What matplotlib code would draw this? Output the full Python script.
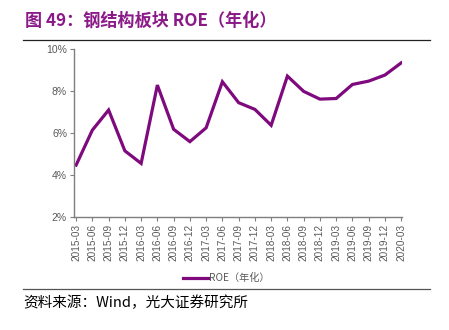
import matplotlib
matplotlib.use("Agg")
import matplotlib.pyplot as plt
from matplotlib.lines import Line2D

plt.rcParams['font.family'] = ['Noto Sans CJK SC', 'DejaVu Sans']

# 数据
quarters = ['2015-03', '2015-06', '2015-09', '2015-12', '2016-03', '2016-06',
            '2016-09', '2016-12', '2017-03', '2017-06', '2017-09', '2017-12',
            '2018-03', '2018-06', '2018-09', '2018-12', '2019-03', '2019-06',
            '2019-09', '2019-12', '2020-03']
roe = [4.48, 6.15, 7.11, 5.16, 4.56, 8.30, 6.19, 5.60, 6.26, 8.46, 7.46,
       7.14, 6.38, 8.73, 8.00, 7.63, 7.66, 8.33, 8.49, 8.78, 9.36]
yticks = [2, 4, 6, 8, 10]

purple = '#7E0A7E'
grey = '#7F7F7F'

fig = plt.figure(figsize=(4.49, 3.3), dpi=100)
ax = fig.add_axes([0.1648, 0.3424, 0.7305, 0.5076])

x = list(range(len(quarters)))
ax.plot(x, roe, color=purple, linewidth=2.3, solid_joinstyle='miter')

ax.set_ylim(2, 10)
ax.set_yticks(yticks)
ax.set_yticklabels([f'{v}%' for v in yticks], fontsize=7.5, color='#595959',
                   family=['Liberation Sans', 'DejaVu Sans'])
ax.set_xlim(-0.13, 20.05)
ax.set_xticks(x)
ax.set_xticklabels(quarters, rotation=90, fontsize=7.2, color='#595959',
                   family=['Liberation Sans', 'DejaVu Sans'])

for s in ['top', 'right']:
    ax.spines[s].set_visible(False)
for s in ['left', 'bottom']:
    ax.spines[s].set_color(grey)
    ax.spines[s].set_linewidth(1.0)
ax.tick_params(axis='both', colors=grey, length=3, width=0.8, pad=2)
ax.tick_params(axis='both', labelcolor='#595959')

# 标题与分隔线
fig.text(0.056, 0.938, '图 49：钢结构板块 ROE（年化）', fontsize=12.3,
         fontweight='bold', color='#8B1A89', va='center', ha='left')
fig.add_artist(Line2D([0.051, 0.958], [0.879, 0.879], color='#222222', linewidth=0.9))
fig.add_artist(Line2D([0.051, 0.958], [0.124, 0.124], color='#555555', linewidth=0.9))

# 图例
fig.add_artist(Line2D([0.408, 0.463], [0.158, 0.158], color=purple, linewidth=2.3))
fig.text(0.466, 0.158, 'ROE（年化）', fontsize=7.3, color='#595959', va='center', ha='left')

# 资料来源
fig.text(0.051, 0.082, '资料来源：Wind，光大证券研究所', fontsize=10.5, color='black',
         va='center', ha='left')

fig.savefig('out.png', dpi=100)
